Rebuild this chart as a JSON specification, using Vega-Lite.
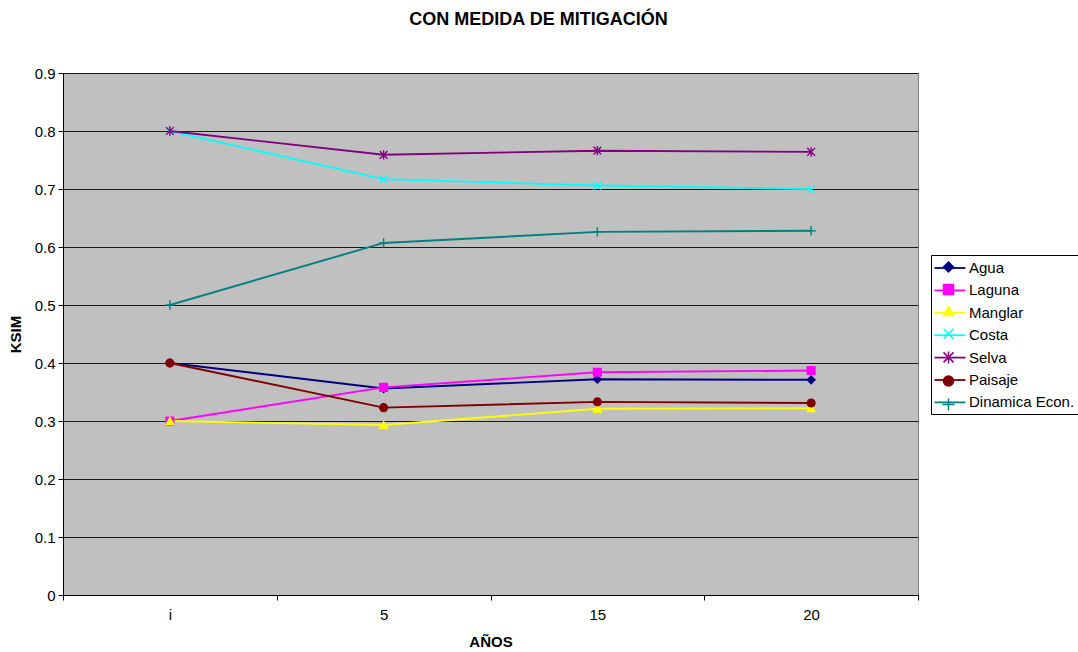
{
  "$schema": "https://vega.github.io/schema/vega-lite/v6.json",
  "width": 855,
  "height": 522,
  "autosize": "none",
  "padding": {"left": 63, "top": 73, "right": 160, "bottom": 57},
  "background": "white",
  "title": {
    "text": "CON MEDIDA DE MITIGACIÓN",
    "font": "Liberation Sans",
    "fontSize": 18,
    "fontWeight": "bold",
    "color": "black",
    "anchor": "middle",
    "dx": 48,
    "offset": 37
  },
  "data": {
    "values": [
      {"serie": "Agua", "anio": "i", "ksim": 0.4},
      {"serie": "Agua", "anio": "5", "ksim": 0.356},
      {"serie": "Agua", "anio": "15", "ksim": 0.372},
      {"serie": "Agua", "anio": "20", "ksim": 0.371},
      {"serie": "Laguna", "anio": "i", "ksim": 0.3},
      {"serie": "Laguna", "anio": "5", "ksim": 0.358},
      {"serie": "Laguna", "anio": "15", "ksim": 0.384},
      {"serie": "Laguna", "anio": "20", "ksim": 0.387},
      {"serie": "Manglar", "anio": "i", "ksim": 0.3},
      {"serie": "Manglar", "anio": "5", "ksim": 0.293},
      {"serie": "Manglar", "anio": "15", "ksim": 0.321},
      {"serie": "Manglar", "anio": "20", "ksim": 0.322},
      {"serie": "Costa", "anio": "i", "ksim": 0.8},
      {"serie": "Costa", "anio": "5", "ksim": 0.717},
      {"serie": "Costa", "anio": "15", "ksim": 0.706},
      {"serie": "Costa", "anio": "20", "ksim": 0.7},
      {"serie": "Selva", "anio": "i", "ksim": 0.8},
      {"serie": "Selva", "anio": "5", "ksim": 0.759},
      {"serie": "Selva", "anio": "15", "ksim": 0.766},
      {"serie": "Selva", "anio": "20", "ksim": 0.764},
      {"serie": "Paisaje", "anio": "i", "ksim": 0.4},
      {"serie": "Paisaje", "anio": "5", "ksim": 0.323},
      {"serie": "Paisaje", "anio": "15", "ksim": 0.333},
      {"serie": "Paisaje", "anio": "20", "ksim": 0.331},
      {"serie": "Dinamica Econ.", "anio": "i", "ksim": 0.5},
      {"serie": "Dinamica Econ.", "anio": "5", "ksim": 0.607},
      {"serie": "Dinamica Econ.", "anio": "15", "ksim": 0.626},
      {"serie": "Dinamica Econ.", "anio": "20", "ksim": 0.628}
    ]
  },
  "encoding": {
    "x": {
      "field": "anio",
      "type": "ordinal",
      "sort": ["i", "5", "15", "20"],
      "scale": {"type": "band", "domain": ["i", "5", "15", "20"], "paddingInner": 0, "paddingOuter": 0},
      "axis": {
        "title": "AÑOS",
        "labelAngle": 0,
        "tickBand": "extent",
        "grid": false,
        "tickSize": 5,
        "labelPadding": 7,
        "titleY": 46,
        "titleBaseline": "middle"
      }
    },
    "y": {
      "field": "ksim",
      "type": "quantitative",
      "scale": {"domain": [0, 0.9], "nice": false, "zero": true},
      "axis": {
        "title": "KSIM",
        "values": [0, 0.1, 0.2, 0.3, 0.4, 0.5, 0.6, 0.7, 0.8, 0.9],
        "format": ".1~f",
        "tickSize": 5,
        "labelPadding": 3,
        "grid": true,
        "gridColor": "#1a1a1a",
        "gridOpacity": 1,
        "gridWidth": 1,
        "titleX": -48,
        "titleY": 261,
        "titleAlign": "center",
        "titleBaseline": "middle"
      }
    }
  },
  "layer": [
    {
      "mark": {"type": "line", "strokeWidth": 1.9},
      "encoding": {
        "color": {
          "field": "serie",
          "type": "nominal",
          "sort": null,
          "scale": {
            "range": ["#000080", "#FF00FF", "#FFFF00", "#00FFFF", "#800080", "#800000", "#008080"]
          },
          "legend": {
            "title": null,
            "orient": "none",
            "legendX": 868,
            "legendY": 182,
            "strokeColor": "black",
            "fillColor": "white",
            "padding": 3,
            "symbolType": "M-1.72,0L1.72,0",
            "symbolSize": 324,
            "symbolStrokeWidth": 1.8,
            "symbolOffset": 6,
            "labelOffset": 9,
            "rowPadding": 4.4,
            "zindex": 0
          }
        }
      }
    },
    {
      "mark": {"type": "point", "filled": true, "size": 60, "strokeWidth": 1.4, "opacity": 1},
      "encoding": {
        "stroke": {
          "field": "serie",
          "type": "nominal",
          "scale": {
            "domain": ["Agua", "Laguna", "Manglar", "Costa", "Selva", "Paisaje", "Dinamica Econ."],
            "range": ["#000080", "#FF00FF", "#FFFF00", "#00FFFF", "#800080", "#800000", "#008080"]
          },
          "legend": {
            "title": null,
            "orient": "none",
            "legendX": 868,
            "legendY": 183.5,
            "padding": 3,
            "symbolOffset": 7,
            "labelExpr": "''",
            "rowPadding": 5.6,
            "zindex": 1
          }
        },
        "fill": {
          "field": "serie",
          "type": "nominal",
          "scale": {
            "domain": ["Agua", "Laguna", "Manglar", "Costa", "Selva", "Paisaje", "Dinamica Econ."],
            "range": ["#000080", "#FF00FF", "#FFFF00", "#00FFFF", "#800080", "#800000", "#008080"]
          },
          "legend": {
            "title": null,
            "orient": "none",
            "legendX": 868,
            "legendY": 183.5,
            "padding": 3,
            "symbolOffset": 7,
            "labelExpr": "''",
            "rowPadding": 5.6,
            "zindex": 1
          }
        },
        "shape": {
          "field": "serie",
          "type": "nominal",
          "scale": {
            "domain": ["Agua", "Laguna", "Manglar", "Costa", "Selva", "Paisaje", "Dinamica Econ."],
            "range": ["diamond", "square", "triangle-up", "M-1,-1L1,1M-1,1L1,-1", "M-1,-1L1,1M-1,1L1,-1M0,-1.2L0,1.2", "circle", "M-1.2,0L1.2,0M0,-1.2L0,1.2"]
          },
          "legend": {
            "title": null,
            "orient": "none",
            "legendX": 868,
            "legendY": 183.5,
            "padding": 3,
            "symbolOffset": 7,
            "labelExpr": "''",
            "rowPadding": 5.6,
            "zindex": 1
          }
        }
      }
    }
  ],
  "config": {
    "font": "Liberation Sans",
    "view": {"fill": "#C0C0C0", "stroke": "#808080", "strokeWidth": 1},
    "axis": {
      "labelFont": "Liberation Sans",
      "labelFontSize": 15,
      "labelColor": "black",
      "titleFont": "Liberation Sans",
      "titleFontSize": 15,
      "titleFontWeight": "bold",
      "titleColor": "black",
      "domainColor": "black",
      "tickColor": "black",
      "domainWidth": 1,
      "tickWidth": 1
    },
    "legend": {
      "labelFont": "Liberation Sans",
      "labelFontSize": 15,
      "labelColor": "black",
      "labelLimit": 200
    }
  }
}
